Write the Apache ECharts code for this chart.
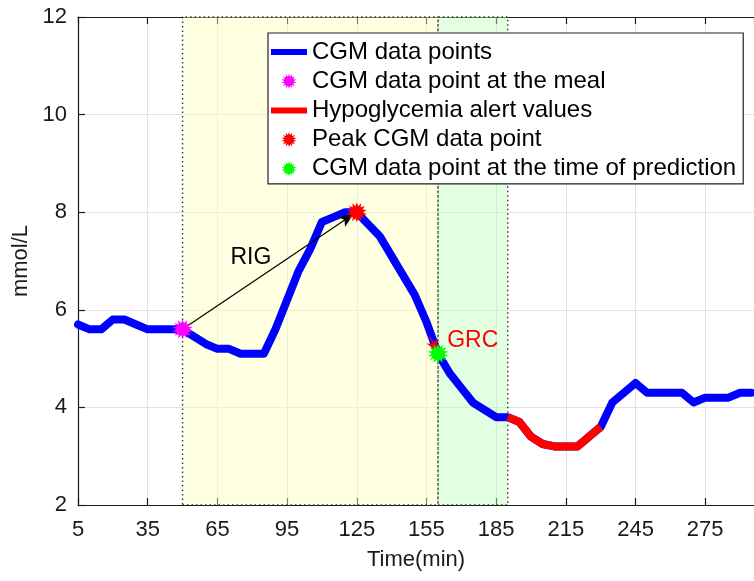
<!DOCTYPE html>
<html>
<head>
  <meta charset="UTF-8" />
  <title>CGM prediction</title>
  <script src="https://cdn.jsdelivr.net/npm/echarts@6/dist/echarts.min.js"></script>
  <style>
    html, body { margin: 0; padding: 0; background: #fff; }
    #chart { width: 754px; height: 581px; }
  </style>
</head>
<body>
  <div id="chart"></div>
  <script>
    // time axis (min), one CGM reading every 5 min
    const times = [5, 10, 15, 20, 25, 30, 35, 40, 45, 50, 55, 60, 65, 70, 75, 80, 85, 90, 95, 100,
      105, 110, 115, 120, 125, 130, 135, 140, 145, 150, 155, 160, 165, 170, 175, 180, 185, 190,
      195, 200, 205, 210, 215, 220, 225, 230, 235, 240, 245, 250, 255, 260, 265, 270, 275, 280,
      285, 290, 295];
    // glucose (mmol/L)
    const glucose = [5.7, 5.6, 5.6, 5.8, 5.8, 5.7, 5.6, 5.6, 5.6, 5.6, 5.45, 5.3, 5.2, 5.2, 5.1, 5.1, 5.1, 5.6, 6.2, 6.8,
      7.25, 7.8, 7.9, 8.0, 8.0, 7.75, 7.5, 7.1, 6.7, 6.3, 5.75, 5.1, 4.7, 4.4, 4.1, 3.95, 3.8, 3.8,
      3.7, 3.4, 3.25, 3.2, 3.2, 3.2, 3.4, 3.6, 4.1, 4.3, 4.5, 4.3, 4.3, 4.3, 4.3, 4.1, 4.2, 4.2,
      4.2, 4.3, 4.3];
    // hypoglycemia alert window
    const hypoStart = 190, hypoEnd = 230;
    // key points
    const mealPoint = [50, 5.6];
    const peakPoint = [125, 8.0];
    const predPoint = [160, 5.1];
    // shaded windows
    const mealWindow = [50, 160];
    const predWindow = [160, 190];
    // annotations
    const rigArrow = [[50, 5.6], [123.5, 7.96]];
    const grcArrow = [[156.5, 5.45], [159.6, 5.14]];
    const rigText = [79.4, 7.07];
    const grcText = [163.9, 5.375];

    const xTicks = [5, 35, 65, 95, 125, 155, 185, 215, 245, 275];
    const yTicks = [2, 4, 6, 8, 10, 12];

    const FONT = "'Liberation Sans', Arial, Helvetica, sans-serif";

    // starburst marker like matlab '*'
    function starPath(n, r1, r2) {
      let d = '';
      for (let i = 0; i < n * 2; i++) {
        const r = i % 2 === 0 ? r1 : r2;
        const a = Math.PI * i / n - Math.PI / 2;
        d += (i === 0 ? 'M' : 'L') + (r * Math.cos(a)).toFixed(3) + ',' + (r * Math.sin(a)).toFixed(3);
      }
      return 'path://' + d + 'Z';
    }
    const STAR = starPath(14, 10, 6.2);
    const BAR = 'path://M0,0H36V6H0Z';

    const cgmData = times.map((t, i) => [t, glucose[i]]);
    const hypoData = cgmData.filter(p => p[0] >= hypoStart && p[0] <= hypoEnd);

    const axisCommon = {
      type: 'value',
      axisLine: { show: true, lineStyle: { color: '#1a1a1a', width: 1.2 } },
      axisTick: { show: true, inside: true, length: 7, lineStyle: { color: '#1a1a1a', width: 1.2 } },
      axisLabel: { color: '#1a1a1a', fontSize: 22, fontFamily: FONT },
      splitLine: { show: true, lineStyle: { color: '#e2e2e2', width: 1 } }
    };

    const chart = echarts.init(document.getElementById('chart'));
    chart.setOption({
      animation: false,
      backgroundColor: '#fff',
      grid: { left: 78, right: 0, top: 17, bottom: 76 },
      legend: {
        left: 268,
        top: 33,
        orient: 'vertical',
        backgroundColor: '#fff',
        borderColor: '#222',
        borderWidth: 1.2,
        padding: [7, 7, 3, 3],
        itemWidth: 36,
        itemHeight: 15,
        itemGap: 5.2,
        symbolKeepAspect: true,
        textStyle: { color: '#000', fontSize: 24, fontFamily: FONT, lineHeight: 22 },
        data: [
          { name: 'CGM data points', icon: BAR },
          { name: 'CGM data point at the meal', icon: STAR },
          { name: 'Hypoglycemia alert values', icon: BAR },
          { name: 'Peak CGM data point', icon: STAR },
          { name: 'CGM data point at the time of prediction', icon: STAR }
        ]
      },
      xAxis: [
        Object.assign({}, axisCommon, {
          min: 5, max: 296, interval: 30,
          name: 'Time(min)', nameLocation: 'middle', nameGap: 44,
          nameTextStyle: { color: '#1a1a1a', fontSize: 22, fontFamily: FONT },
          axisLabel: Object.assign({}, axisCommon.axisLabel, {
            margin: 14, showMaxLabel: false,
            formatter: v => xTicks.includes(v) ? String(v) : ''
          })
        }),
        Object.assign({}, axisCommon, {
          min: 5, max: 296, interval: 30, position: 'top',
          axisLabel: { show: false }, splitLine: { show: false }
        })
      ],
      yAxis: Object.assign({}, axisCommon, {
        min: 2, max: 12, interval: 2,
        name: 'mmol/L', nameLocation: 'middle', nameGap: 46,
        nameTextStyle: { color: '#1a1a1a', fontSize: 22, fontFamily: FONT },
        axisLabel: Object.assign({}, axisCommon.axisLabel, {
          margin: 11,
          formatter: v => yTicks.includes(v) ? String(v) : ''
        })
      }),
      series: [
        {
          name: 'CGM data points',
          type: 'line',
          data: cgmData,
          showSymbol: false,
          symbol: 'none',
          itemStyle: { color: '#0000ff' },
          lineStyle: { color: '#0000ff', width: 8, join: 'round', cap: 'round' },
          z: 3,
          markArea: {
            silent: true,
            data: [
              [{ xAxis: mealWindow[0], yAxis: 2, itemStyle: { color: 'rgba(255,255,190,0.45)' } },
               { xAxis: mealWindow[1], yAxis: 12 }],
              [{ xAxis: predWindow[0], yAxis: 2, itemStyle: { color: 'rgba(190,255,190,0.45)' } },
               { xAxis: predWindow[1], yAxis: 12 }]
            ],
            itemStyle: { borderColor: '#333', borderWidth: 1.4, borderType: [1.5, 3] }
          }
        },
        {
          name: 'Hypoglycemia alert values',
          type: 'line',
          data: hypoData,
          showSymbol: false,
          symbol: 'none',
          itemStyle: { color: '#ff0000' },
          lineStyle: { color: '#ff0000', width: 8, join: 'round' },
          z: 4
        },
        {
          name: 'annotations',
          type: 'line',
          data: [],
          z: 6,
          markLine: {
            silent: true,
            animation: false,
            label: { show: false },
            data: [
              [{ coord: rigArrow[0], symbol: 'none', lineStyle: { color: '#000', width: 1.2, type: 'solid' } },
               { coord: rigArrow[1], symbol: 'arrow', symbolSize: [9, 14] }],
              [{ coord: grcArrow[0], symbol: 'none', lineStyle: { color: '#ff0000', width: 1.2, type: 'solid' } },
               { coord: grcArrow[1], symbol: 'arrow', symbolSize: [9, 12] }]
            ]
          }
        },
        {
          name: 'CGM data point at the meal',
          type: 'scatter',
          data: [mealPoint],
          symbol: STAR,
          symbolSize: 20,
          itemStyle: { color: '#ff00ff', opacity: 1 },
          z: 7
        },
        {
          name: 'Peak CGM data point',
          type: 'scatter',
          data: [peakPoint],
          symbol: STAR,
          symbolSize: 20,
          itemStyle: { color: '#ff0000', opacity: 1 },
          z: 7
        },
        {
          name: 'CGM data point at the time of prediction',
          type: 'scatter',
          data: [predPoint],
          symbol: STAR,
          symbolSize: 20,
          itemStyle: { color: '#00ff00', opacity: 1 },
          z: 7
        },
        {
          name: 'labels',
          type: 'scatter',
          symbolSize: 0,
          silent: true,
          z: 8,
          itemStyle: { opacity: 1 },
          data: [
            { value: rigText, label: { show: true, formatter: 'RIG', position: 'inside', color: '#000', fontSize: 23, fontFamily: FONT } },
            { value: grcText, label: { show: true, formatter: 'GRC', position: 'right', distance: 0, color: '#ff0000', fontSize: 23, fontFamily: FONT } }
          ]
        }
      ]
    });
  </script>
</body>
</html>
